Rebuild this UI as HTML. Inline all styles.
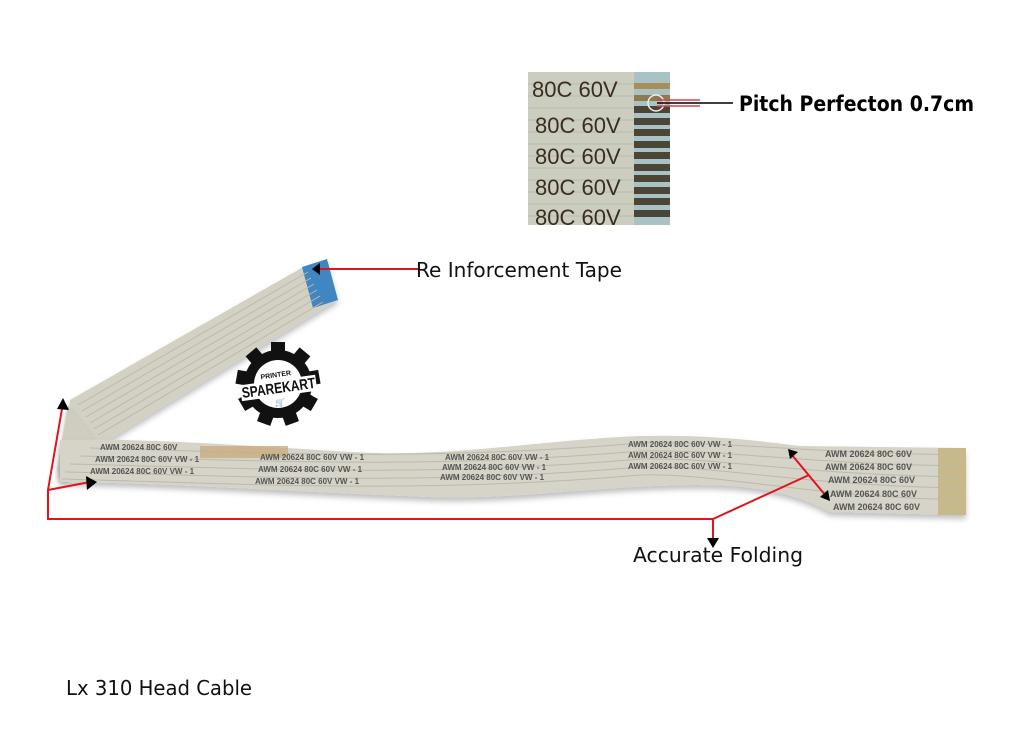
<!DOCTYPE html>
<html><head><meta charset="utf-8"><style>
html,body{margin:0;padding:0;background:#fff;}
svg{display:block}
</style></head><body>
<svg width="1024" height="732" viewBox="0 0 1024 732" xmlns="http://www.w3.org/2000/svg" font-family="Liberation Sans, sans-serif">
<defs>
<filter id="sh" x="-5%" y="-20%" width="110%" height="140%"><feDropShadow dx="0" dy="4" stdDeviation="3" flood-color="#000" flood-opacity="0.25"/></filter>
</defs>

<!-- inset -->
<rect x="528" y="72" width="106" height="153" fill="#cbcdbf"/>
<g stroke="#b8baab" stroke-width="1">
<line x1="528" y1="84" x2="634" y2="84"/><line x1="528" y1="96" x2="634" y2="96"/><line x1="528" y1="108" x2="634" y2="108"/><line x1="528" y1="120" x2="634" y2="120"/><line x1="528" y1="132" x2="634" y2="132"/><line x1="528" y1="144" x2="634" y2="144"/><line x1="528" y1="156" x2="634" y2="156"/><line x1="528" y1="168" x2="634" y2="168"/><line x1="528" y1="180" x2="634" y2="180"/><line x1="528" y1="192" x2="634" y2="192"/><line x1="528" y1="204" x2="634" y2="204"/><line x1="528" y1="216" x2="634" y2="216"/>
</g>
<rect x="634" y="72" width="36" height="153" fill="#a8c2c6"/>
<g fill="#4a4535">
<rect x="634" y="83" width="36" height="6" fill="#a88f58"/><rect x="634" y="95" width="36" height="6" fill="#8e7a4c"/>
<rect x="634" y="106" width="36" height="7"/><rect x="634" y="118" width="36" height="7"/><rect x="634" y="129" width="36" height="7"/><rect x="634" y="141" width="36" height="7"/><rect x="634" y="152" width="36" height="7"/><rect x="634" y="164" width="36" height="7"/><rect x="634" y="175" width="36" height="7"/><rect x="634" y="187" width="36" height="7"/><rect x="634" y="198" width="36" height="7"/><rect x="634" y="210" width="36" height="7"/>
</g>
<g fill="#3a2c22" font-size="22">
<text x="532" y="97">80C 60V</text><text x="535" y="133">80C 60V</text><text x="535" y="164">80C 60V</text><text x="535" y="195">80C 60V</text><text x="535" y="225">80C 60V</text>
</g>
<circle cx="656" cy="103" r="8" fill="none" stroke="#eee" stroke-width="1.5"/>
<line x1="657" y1="100" x2="700" y2="100" stroke="#e04050" stroke-width="1.5"/>
<line x1="657" y1="106" x2="700" y2="106" stroke="#e04050" stroke-width="1.5"/>
<line x1="657" y1="103" x2="733" y2="103" stroke="#000" stroke-width="1.5"/>
<text x="739" y="111" font-size="21" font-weight="bold" fill="#000" font-family="DejaVu Sans, sans-serif" textLength="235" lengthAdjust="spacingAndGlyphs">Pitch Perfecton 0.7cm</text>

<!-- upper ribbon -->
<g filter="url(#sh)">
<polygon points="70,400 305,266 337,300 105,442 62,478" fill="#d3d0c4"/>
<polygon points="302,267 327,259 338,300 313,308" fill="#3f86c0"/>
</g>
<g stroke="#bdb9ab" stroke-width="1">
<line x1="78" y1="405" x2="308" y2="272"/><line x1="82" y1="411" x2="311" y2="278"/><line x1="86" y1="417" x2="314" y2="284"/><line x1="90" y1="423" x2="317" y2="290"/><line x1="94" y1="429" x2="320" y2="296"/><line x1="98" y1="435" x2="323" y2="302"/>
</g>
<polygon points="68,405 95,440 60,480 57,470" fill="#cfccc0" filter="url(#sh)"/>

<!-- lower ribbon -->
<path d="M60,440 C150,438 250,446 350,452 C450,458 540,440 640,436 C720,434 780,444 800,446 L965,448 L966,515 L830,512 C800,495 760,485 700,485 C600,485 520,500 430,497 C300,492 150,482 60,482 Z" fill="#d6d3c8" filter="url(#sh)"/>
<rect x="938" y="448" width="28" height="67" fill="#c8b98a"/>
<g stroke="#bcb9ac" stroke-width="1" fill="none">
<path d="M90,448 C250,452 420,462 640,443 C720,441 790,452 960,455"/>
<path d="M80,456 C250,460 420,470 640,451 C720,449 790,463 960,466"/>
<path d="M70,464 C250,468 420,478 640,459 C720,457 790,474 960,477"/>
<path d="M65,472 C250,476 420,486 640,467 C720,465 790,485 960,488"/>
<path d="M62,479 C250,484 420,494 640,475 C720,473 800,496 960,500"/>
</g>
<rect x="200" y="446" width="88" height="12" fill="#c9ae80" opacity="0.8"/>
<g fill="#555" font-size="8" font-weight="bold">
<text x="100" y="450">AWM 20624 80C 60V</text><text x="95" y="462">AWM 20624 80C 60V VW - 1</text><text x="90" y="474">AWM 20624 80C 60V VW - 1</text>
<text x="260" y="460">AWM 20624 80C 60V VW - 1</text><text x="258" y="472">AWM 20624 80C 60V VW - 1</text><text x="255" y="484">AWM 20624 80C 60V VW - 1</text>
<text x="445" y="460">AWM 20624 80C 60V VW - 1</text><text x="442" y="470">AWM 20624 80C 60V VW - 1</text><text x="440" y="480">AWM 20624 80C 60V VW - 1</text>
<text x="628" y="447">AWM 20624 80C 60V VW - 1</text><text x="628" y="458">AWM 20624 80C 60V VW - 1</text><text x="628" y="469">AWM 20624 80C 60V VW - 1</text>
<text x="825" y="457" font-size="9">AWM 20624 80C 60V</text><text x="825" y="470" font-size="9">AWM 20624 80C 60V</text><text x="828" y="483" font-size="9">AWM 20624 80C 60V</text><text x="830" y="497" font-size="9">AWM 20624 80C 60V</text><text x="833" y="510" font-size="9">AWM 20624 80C 60V</text>
</g>

<!-- logo -->
<g transform="translate(278,384)">
<circle r="34" fill="#111"/>
<g fill="#111">
<rect x="-7" y="-42" width="14" height="12"/><rect x="-7" y="-42" width="14" height="12" transform="rotate(40)"/><rect x="-7" y="-42" width="14" height="12" transform="rotate(80)"/><rect x="-7" y="-42" width="14" height="12" transform="rotate(120)"/><rect x="-7" y="-42" width="14" height="12" transform="rotate(160)"/><rect x="-7" y="-42" width="14" height="12" transform="rotate(200)"/><rect x="-7" y="-42" width="14" height="12" transform="rotate(240)"/><rect x="-7" y="-42" width="14" height="12" transform="rotate(280)"/><rect x="-7" y="-42" width="14" height="12" transform="rotate(320)"/>
</g>
<circle r="24" fill="#fff"/>
<rect x="-38" y="-4" width="76" height="16" fill="#fff" transform="rotate(-8)"/>
<text x="-1" y="-7" font-size="7" font-weight="bold" text-anchor="middle" transform="rotate(-8)" fill="#111">PRINTER</text>
<text x="0" y="9" font-size="15" font-weight="bold" text-anchor="middle" transform="rotate(-8)" fill="#111" textLength="74" lengthAdjust="spacingAndGlyphs">SPAREKART</text>
<text x="2" y="21" font-size="8" text-anchor="middle" fill="#111">🛒</text>
</g>

<!-- connectors -->
<line x1="418" y1="269" x2="320" y2="269" stroke="#e0141c" stroke-width="2"/>
<path d="M320,263 L320,275 L312,269 z" fill="#000"/>
<text x="416" y="277" font-size="20" fill="#111" font-family="DejaVu Sans, sans-serif" textLength="206" lengthAdjust="spacingAndGlyphs">Re Inforcement Tape</text>

<polyline points="63,403 48,490 48,519 713,519 713,540" fill="none" stroke="#e0141c" stroke-width="2"/>
<line x1="48" y1="490" x2="90" y2="482" stroke="#e0141c" stroke-width="2"/>
<path d="M57,409 L63,398 L69,410 z" fill="#000"/>
<path d="M86,476 L97,482 L87,490 z" fill="#000"/>
<path d="M707,538 L719,538 L713,548 z" fill="#000"/>
<line x1="713" y1="519" x2="809" y2="475" stroke="#e0141c" stroke-width="2"/>
<line x1="792" y1="455" x2="826" y2="496" stroke="#e0141c" stroke-width="2"/>
<path d="M788,449 L798,452 L790,459 z" fill="#000"/>
<path d="M830,501 L820,497 L828,490 z" fill="#000"/>
<text x="633" y="562" font-size="20" fill="#111" font-family="DejaVu Sans, sans-serif" textLength="170" lengthAdjust="spacingAndGlyphs">Accurate Folding</text>

<text x="66" y="695" font-size="20" fill="#111" font-family="DejaVu Sans, sans-serif" textLength="186" lengthAdjust="spacingAndGlyphs">Lx 310 Head Cable</text>
</svg>
</body></html>
